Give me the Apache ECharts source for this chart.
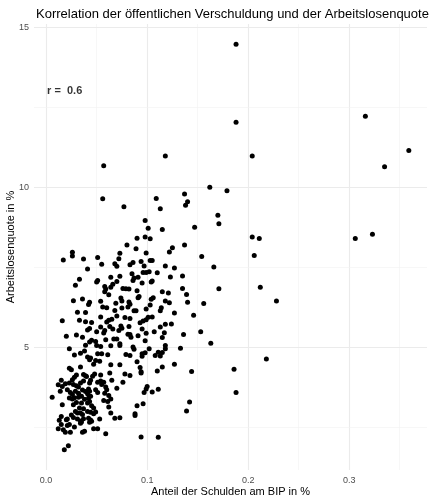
<!DOCTYPE html>
<html>
<head>
<meta charset="utf-8">
<script src="https://cdn.jsdelivr.net/npm/echarts@6/dist/echarts.min.js"></script>
<style>
html,body{margin:0;padding:0;background:#fff;}
#chart{width:432px;height:504px;}
</style>
</head>
<body>
<div id="chart"></div>
<script>
// Anteil der Schulden am BIP (x)
var debtShare = [
0.188,0.188,0.118,0.204,0.057,0.162,0.179,0.137,0.056,0.109,
0.140,0.138,0.077,0.113,0.170,0.098,0.171,0.147,0.101,0.115,
0.204,0.211,0.090,0.098,0.103,0.080,0.137,0.089,0.125,0.316,
0.359,0.335,0.323,0.306,0.099,0.122,0.073,0.026,0.026,0.037,
0.051,0.072,0.017,0.154,0.206,0.094,0.086,0.103,0.105,0.083,
0.055,0.068,0.070,0.097,0.118,0.127,0.166,0.041,0.085,0.096,
0.099,0.102,0.110,0.087,0.091,0.086,0.073,0.064,0.033,0.135,
0.123,0.070,0.051,0.050,0.095,0.104,0.105,0.029,0.066,0.064,
0.058,0.059,0.058,0.212,0.135,0.171,0.076,0.079,0.082,0.090,
0.115,0.121,0.139,0.062,0.092,0.091,0.104,0.106,0.074,0.075,
0.027,0.036,0.043,0.042,0.054,0.082,0.083,0.118,0.122,0.140,
0.156,0.069,0.056,0.060,0.103,0.114,0.075,0.081,0.099,0.113,
0.087,0.089,0.031,0.039,0.068,0.127,0.146,0.070,0.101,0.105,
0.099,0.096,0.093,0.078,0.083,0.054,0.065,0.062,0.060,0.016,
0.033,0.039,0.045,0.118,0.124,0.074,0.075,0.072,0.082,0.113,
0.095,0.043,0.041,0.054,0.050,0.058,0.063,0.066,0.107,0.117,
0.115,0.099,0.136,0.153,0.081,0.083,0.084,0.091,0.098,0.070,
0.057,0.020,0.030,0.036,0.045,0.043,0.039,0.049,0.050,0.054,
0.059,0.064,0.067,0.163,0.118,0.118,0.073,0.073,0.086,0.087,
0.102,0.133,0.023,0.034,0.038,0.028,0.115,0.095,0.098,0.095,
0.108,0.113,0.111,0.079,0.083,0.044,0.041,0.043,0.051,0.055,
0.061,0.049,0.053,0.047,0.064,0.073,0.023,0.025,0.034,0.037,
0.039,0.040,0.030,0.028,0.046,0.048,0.054,0.063,0.090,0.093,
0.094,0.094,0.110,0.115,0.127,0.144,0.078,0.083,0.186,0.218,
0.026,0.015,0.012,0.016,0.019,0.023,0.027,0.030,0.032,0.034,
0.037,0.043,0.044,0.051,0.054,0.055,0.057,0.059,0.060,0.065,
0.070,0.076,0.014,0.021,0.024,0.026,0.029,0.032,0.036,0.039,
0.041,0.043,0.042,0.049,0.051,0.058,0.062,0.064,0.061,0.006,
0.023,0.026,0.028,0.032,0.035,0.038,0.042,0.044,0.057,0.030,
0.035,0.041,0.043,0.045,0.016,0.027,0.033,0.037,0.047,0.062,
0.029,0.031,0.034,0.041,0.044,0.064,0.025,0.027,0.036,0.037,
0.047,0.049,0.015,0.013,0.021,0.020,0.031,0.034,0.042,0.044,
0.043,0.045,0.053,0.068,0.073,0.015,0.012,0.021,0.023,0.028,
0.034,0.035,0.017,0.019,0.024,0.038,0.036,0.047,0.051,0.059,
0.022,0.018,0.100,0.099,0.097,0.105,0.111,0.096,0.090,0.088,
0.088,0.142,0.139,0.094,0.111,0.188,0.228
];
// Arbeitslosenquote in % (y)
var unemploymentRate = [
14.47,12.03,10.98,10.98,10.67,10.00,9.89,9.79,9.64,9.65,
9.55,9.44,9.39,9.33,9.13,8.96,8.86,8.75,8.72,8.68,
8.45,8.40,8.41,8.45,8.39,8.20,8.20,8.08,8.11,12.22,
11.15,10.64,8.53,8.40,7.95,7.98,7.94,7.97,7.85,7.76,
7.81,7.77,7.73,7.84,7.87,7.68,7.65,7.71,7.71,7.58,
7.60,7.61,7.53,7.54,7.54,7.48,7.51,7.45,7.30,7.34,
7.34,7.36,7.33,7.17,7.19,7.09,7.22,7.19,7.13,7.23,
7.20,7.06,7.09,7.04,7.01,7.04,7.07,6.94,6.97,6.88,
6.90,6.82,6.74,6.88,6.84,6.83,6.84,6.83,6.82,6.77,
6.74,6.70,6.65,6.64,6.59,6.55,6.50,6.55,6.54,6.45,
6.46,6.51,6.41,6.34,6.44,6.42,6.35,6.45,6.39,6.41,
6.37,6.38,6.26,6.24,6.32,6.24,6.23,6.26,6.20,6.14,
6.14,6.14,6.10,6.09,6.15,6.07,6.00,5.98,5.94,5.95,
5.86,5.82,5.77,5.93,5.90,5.95,5.88,5.85,5.79,5.83,
5.85,5.80,5.78,5.72,5.73,5.67,5.60,5.53,5.65,5.64,
5.57,5.59,5.54,5.64,5.49,5.53,5.65,5.57,5.49,5.46,
5.31,5.44,5.40,5.49,5.41,5.40,5.32,5.36,5.21,5.26,
5.45,5.35,5.39,5.32,5.22,5.17,5.07,5.18,5.06,5.03,
5.24,5.05,5.26,5.13,5.06,4.96,5.11,5.06,5.01,4.94,
4.96,4.97,4.96,4.82,4.89,4.76,4.84,4.80,4.83,4.72,
4.75,4.73,4.85,4.78,4.75,4.67,4.70,4.61,4.80,4.80,
4.77,4.59,4.57,4.47,4.46,4.46,4.35,4.30,4.39,4.15,
4.11,4.09,4.14,4.07,4.10,4.17,4.14,4.20,4.55,4.37,
4.24,4.20,4.26,4.39,4.47,4.25,4.17,4.12,4.32,4.64,
3.99,3.97,3.83,3.78,3.86,3.89,3.84,3.80,3.76,3.89,
3.95,3.89,3.97,3.91,3.95,3.84,3.91,3.76,3.68,3.97,
3.72,3.91,3.63,3.68,3.59,3.53,3.63,3.57,3.67,3.62,
3.55,3.63,3.70,3.68,3.59,3.57,3.50,3.39,3.31,3.44,
3.42,3.39,3.43,3.44,3.47,3.38,3.42,3.47,3.34,3.28,
3.26,3.26,3.31,3.18,3.21,3.21,3.11,3.08,3.11,3.14,
3.00,2.95,2.95,3.00,2.97,2.95,2.89,2.81,2.90,2.77,
2.93,2.98,2.84,2.72,2.76,2.74,2.76,2.70,2.79,2.73,
2.66,2.69,2.76,2.79,2.80,2.59,2.46,2.56,2.59,2.51,
2.63,2.67,2.43,2.35,2.35,2.38,2.35,2.46,2.46,2.30,
1.93,1.80,3.78,3.70,3.59,3.61,3.69,3.24,3.18,2.93,
2.87,3.29,3.01,2.20,2.19,3.59,6.45
];
var xTickValues = [0, 0.1, 0.2, 0.3];
var yTickValues = [5, 10, 15];
var xMinorGrid = [0.05, 0.15, 0.25, 0.35];
var yMinorGrid = [2.5, 7.5, 12.5];
var annotationPos = [0, 13];
var annotationText = 'r =  0.6';

var FONT = '"Liberation Sans", Arial, sans-serif';
var points = debtShare.map(function (x, i) { return [x, unemploymentRate[i]]; });

var gridLines = [];
xTickValues.forEach(function (v) { gridLines.push({ xAxis: v, lineStyle: { color: '#EBEBEB', width: 1.1, type: 'solid' } }); });
xMinorGrid.forEach(function (v) { gridLines.push({ xAxis: v, lineStyle: { color: '#F2F2F2', width: 0.6, type: 'solid' } }); });
yTickValues.forEach(function (v) { gridLines.push({ yAxis: v, lineStyle: { color: '#EBEBEB', width: 1.1, type: 'solid' } }); });
yMinorGrid.forEach(function (v) { gridLines.push({ yAxis: v, lineStyle: { color: '#F2F2F2', width: 0.6, type: 'solid' } }); });

var chart = echarts.init(document.getElementById('chart'), null, { renderer: 'canvas' });
chart.setOption({
  animation: false,
  backgroundColor: '#ffffff',
  title: {
    text: 'Korrelation der öffentlichen Verschuldung und der Arbeitslosenquote',
    left: 31, top: 3,
    textStyle: { fontFamily: FONT, fontSize: 13, fontWeight: 'normal', color: '#000000' }
  },
  grid: { left: 34, right: 5, top: 24, bottom: 34, containLabel: false, outerBoundsMode: 'none' },
  xAxis: {
    type: 'value', min: -0.012, max: 0.377,
    name: 'Anteil der Schulden am BIP in %', nameLocation: 'middle', nameGap: 16, nameMoveOverlap: false,
    nameTextStyle: { fontFamily: FONT, fontSize: 11, color: '#000000' },
    axisLine: { show: false }, axisTick: { show: false }, splitLine: { show: false },
    axisLabel: {
      customValues: xTickValues, margin: 6,
      formatter: function (v) { return v.toFixed(1); },
      fontFamily: FONT, fontSize: 9, color: '#4D4D4D'
    }
  },
  yAxis: {
    type: 'value', min: 1.17, max: 15.1,
    name: 'Arbeitslosenquote in %', nameLocation: 'middle', nameGap: 18, nameRotate: 90, nameMoveOverlap: false,
    nameTextStyle: { fontFamily: FONT, fontSize: 11, color: '#000000' },
    axisLine: { show: false }, axisTick: { show: false }, splitLine: { show: false },
    axisLabel: {
      customValues: yTickValues, margin: 5,
      formatter: function (v) { return String(v); },
      fontFamily: FONT, fontSize: 9, color: '#4D4D4D'
    }
  },
  series: [
    {
      type: 'scatter', data: points, symbolSize: 5, z: 3,
      itemStyle: { color: '#000000', opacity: 1 },
      markLine: { silent: true, symbol: ['none', 'none'], label: { show: false }, z: 1, data: gridLines }
    },
    {
      type: 'scatter', data: [annotationPos], symbolSize: 0, z: 4, silent: true,
      label: {
        show: true, position: 'right', distance: 1,
        formatter: function () { return annotationText; },
        fontFamily: FONT, fontSize: 11, fontWeight: 'bold', color: '#000000'
      }
    }
  ]
});
</script>
</body>
</html>
